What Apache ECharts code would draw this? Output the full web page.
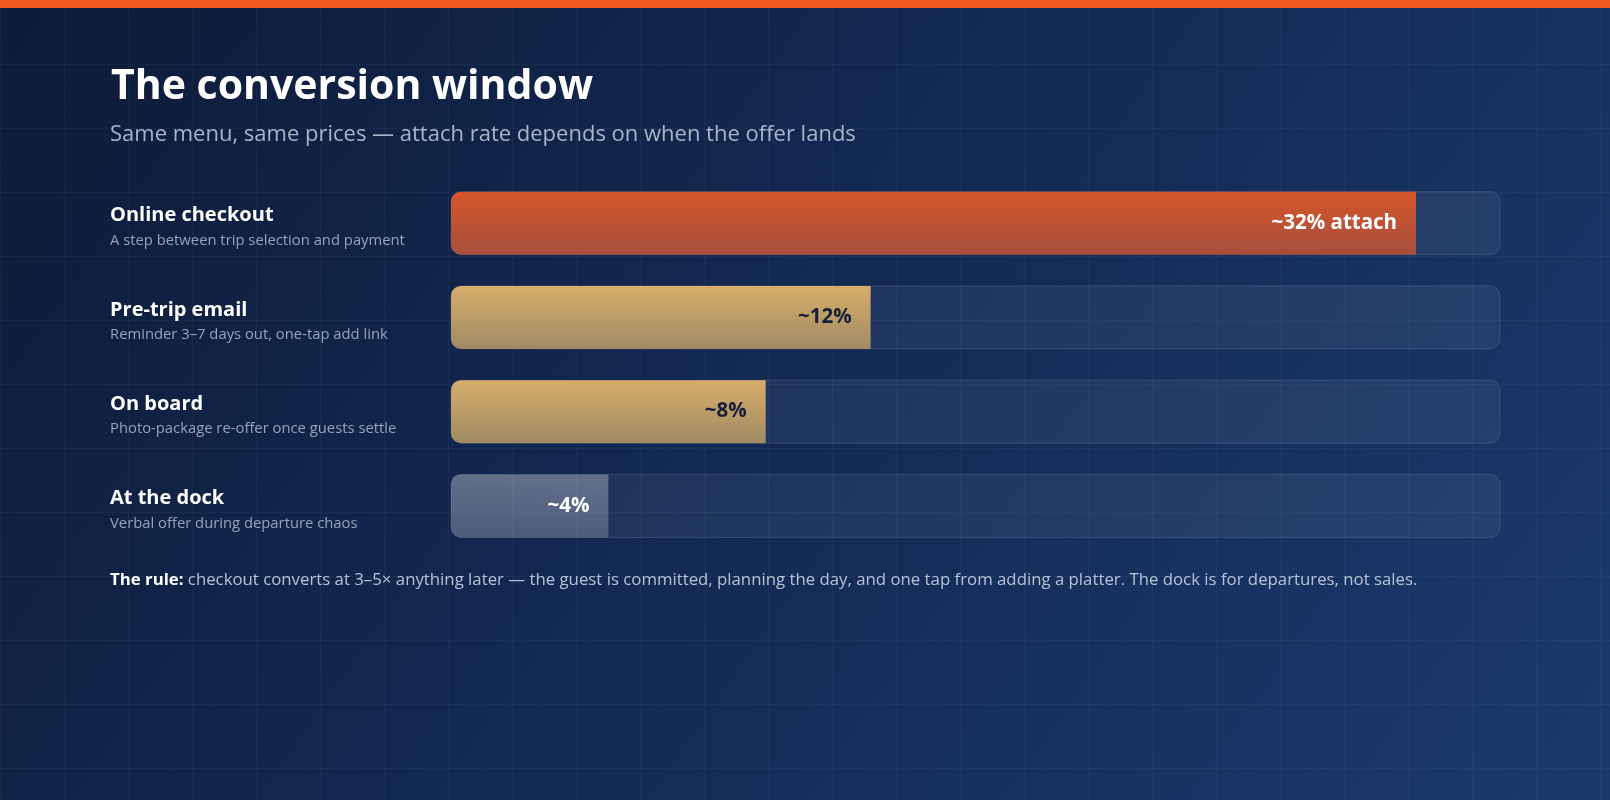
<!DOCTYPE html>
<html>
<head>
<meta charset="utf-8">
<title>The conversion window</title>
<script src="https://cdn.jsdelivr.net/npm/echarts@6/dist/echarts.min.js"></script>
<style>
  html, body { margin: 0; padding: 0; }
  body {
    width: 1610px; height: 800px; overflow: hidden;
    background-color: #13264b;
    background-image:
      linear-gradient(rgba(255,255,255,0.035) 1px, transparent 1px),
      linear-gradient(90deg, rgba(255,255,255,0.035) 1px, transparent 1px),
      linear-gradient(125deg, #0e1b38 0%, #132852 45%, #1b3a6d 100%);
    background-size: 64px 64px, 64px 64px, 100% 100%;
  }
  #topline { position: absolute; left: 0; top: 0; width: 1610px; height: 8px; background: #f25a22; }
  #chart { position: absolute; left: 0; top: 0; width: 1610px; height: 800px; }
</style>
</head>
<body>
<div id="topline"></div>
<div id="chart"></div>
<script>
// offer moments, top to bottom
var stages = ['Online checkout', 'Pre-trip email', 'On board', 'At the dock'];
var notes = [
    'A step between trip selection and payment',
    'Reminder 3\u20137 days out, one-tap add link',
    'Photo-package re-offer once guests settle',
    'Verbal offer during departure chaos'
];
// filled share of each track (as drawn)
var barShare = [92, 40, 30, 15];
// text printed on each bar
var barText = ['~32% attach', '~12%', '~8%', '~4%'];

var font = '"Open Sans", "Noto Sans", sans-serif';

function grad(top, bottom) {
    return new echarts.graphic.LinearGradient(0, 0, 0, 1, [
        { offset: 0, color: top },
        { offset: 1, color: bottom }
    ]);
}

var fills = [
    grad('#d6562a', '#a64f3c'),
    grad('#d7ae6a', '#a08a64'),
    grad('#d7ae6a', '#a08a64'),
    grad('rgba(255,255,255,0.30)', 'rgba(255,255,255,0.20)')
];
var textColors = ['#ffffff', '#18213a', '#18213a', '#ffffff'];

var myChart = echarts.init(document.getElementById('chart'), null, { renderer: 'canvas' });

var option = {
    backgroundColor: 'transparent',
    textStyle: { fontFamily: font },
    title: [{
        text: 'The conversion window',
        left: 111,
        top: 67,
        padding: 0,
        textStyle: { color: '#ffffff', fontSize: 41, fontWeight: 'bold', fontFamily: font }
    }, {
        text: 'Same menu, same prices \u2014 attach rate depends on when the offer lands',
        left: 110,
        top: 124,
        padding: 0,
        textStyle: { color: '#a9b4c9', fontSize: 22, fontWeight: 'normal', fontFamily: font }
    }, {
        text: '{b|The rule:} checkout converts at 3\u20135\u00d7 anything later \u2014 the guest is committed, planning the day, and one tap from adding a platter. The dock is for departures, not sales.',
        left: 110,
        top: 572,
        padding: 0,
        textStyle: {
            color: '#b8c2d6', fontSize: 16.8, fontWeight: 'normal', fontFamily: font,
            rich: { b: { color: '#ffffff', fontWeight: 'bold', fontSize: 16.8, fontFamily: font } }
        }
    }],
    grid: { left: 451, width: 1049, top: 176, height: 377, containLabel: false },
    xAxis: {
        type: 'value', min: 0, max: 100,
        show: false
    },
    yAxis: {
        type: 'category',
        inverse: true,
        data: stages,
        axisLine: { show: false },
        axisTick: { show: false },
        splitLine: { show: false },
        axisLabel: {
            align: 'left',
            margin: 341,
            formatter: function (value, idx) {
                return '{n|' + value + '}\n{d|' + notes[idx] + '}';
            },
            padding: [13, 0, 0, 0],
            rich: {
                n: { color: '#ffffff', fontSize: 20, fontWeight: 'bold', lineHeight: 22, fontFamily: font },
                d: { color: '#97a3bb', fontSize: 14.8, lineHeight: 28, fontFamily: font }
            }
        }
    },
    series: [{
        type: 'bar',
        barWidth: 63,
        data: barShare.map(function (v, i) {
            return {
                value: v,
                itemStyle: { color: fills[i] },
                label: { color: textColors[i] }
            };
        }),
        itemStyle: { borderRadius: [10, 0, 0, 10] },
        showBackground: true,
        backgroundStyle: {
            color: 'rgba(255,255,255,0.06)',
            borderColor: 'rgba(255,255,255,0.12)',
            borderWidth: 1,
            borderRadius: 10
        },
        label: {
            show: true,
            position: 'insideRight',
            distance: 19,
            fontSize: 20.5,
            fontWeight: 'bold',
            fontFamily: font,
            formatter: function (p) { return barText[p.dataIndex]; }
        },
        silent: true,
        animation: false
    }]
};

myChart.setOption(option);
</script>
</body>
</html>
